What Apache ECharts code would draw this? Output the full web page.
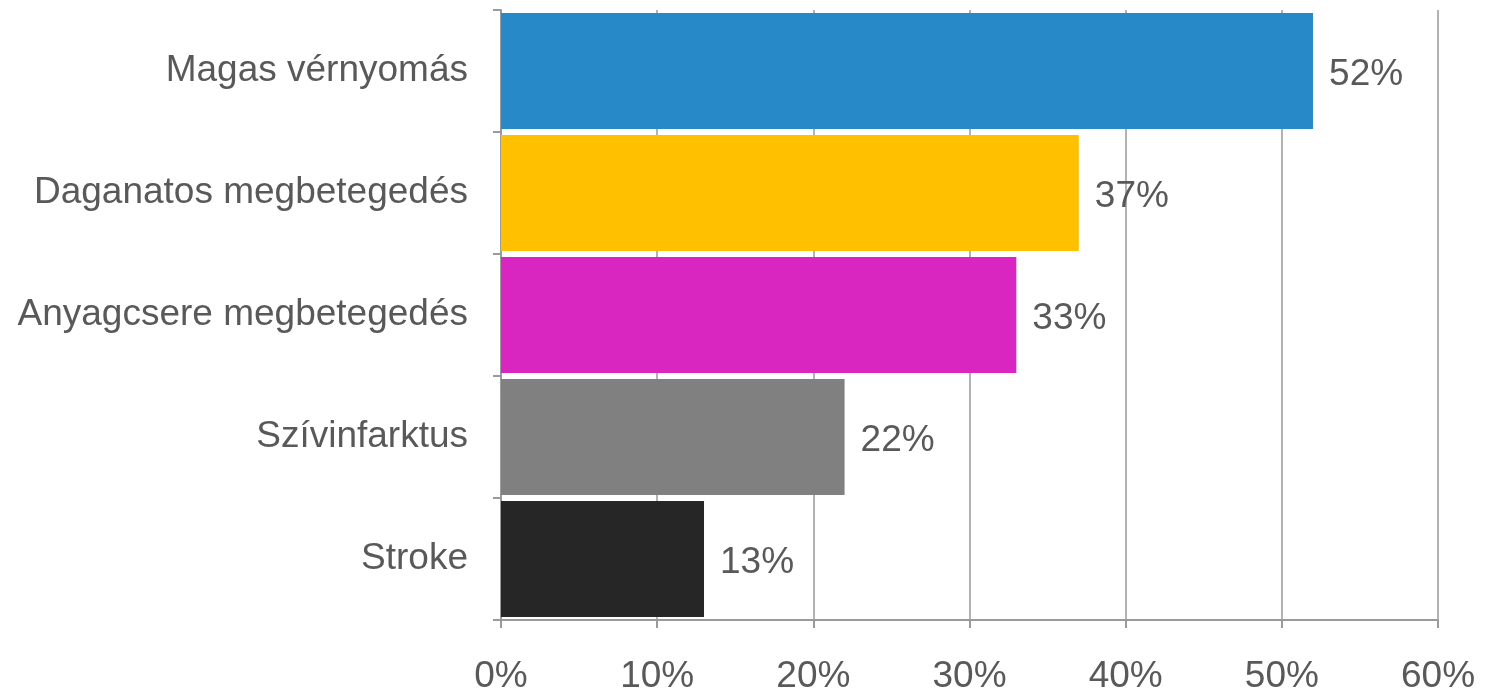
<!DOCTYPE html>
<html><head><meta charset="utf-8">
<script src="https://cdn.jsdelivr.net/npm/echarts@6/dist/echarts.min.js"></script>
<style>html,body{margin:0;padding:0;background:#fff}#c{width:1486px;height:693px}</style>
</head><body><div id="c"></div>
<script>
const categories = ["Magas vérnyomás","Daganatos megbetegedés","Anyagcsere megbetegedés","Szívinfarktus","Stroke"];
const values = [52, 37, 33, 22, 13];
const colors = ["#2789C8","#FFC000","#D926C0","#808080","#262626"];
const xTicks = [0,10,20,30,40,50,60];

const chart = echarts.init(document.getElementById('c'), null, {renderer:'canvas'});
const font = 'Liberation Sans, Arial, sans-serif';
chart.setOption({
  animation:false,
  grid:{left:501,right:48,top:10,bottom:73,containLabel:false,outerBoundsMode:'none'},
  xAxis:{type:'value',min:xTicks[0],max:xTicks[xTicks.length-1],interval:10,
    axisLine:{show:true,lineStyle:{color:'#9a9a9a',width:2}},
    axisTick:{show:true,length:8,lineStyle:{color:'#9a9a9a',width:2}},
    splitLine:{show:true,lineStyle:{color:'#9a9a9a',width:1.5}},
    axisLabel:{margin:38,fontSize:37,color:'#595959',fontFamily:font,formatter:v=>v+'%'}},
  yAxis:{type:'category',data:categories,inverse:true,
    axisLine:{show:true,lineStyle:{color:'#9a9a9a',width:2}},
    axisTick:{show:true,length:8,lineStyle:{color:'#9a9a9a',width:2}},
    axisLabel:{margin:33,fontSize:37,color:'#595959',fontFamily:font,padding:[7,0,0,0]}},
  series:[{type:'bar',data:values.map((v,i)=>({value:v,itemStyle:{color:colors[i]}})),
    barCategoryGap:'5%',
    label:{show:true,position:'right',distance:16,offset:[0,4],fontSize:37,color:'#595959',fontFamily:font,formatter:p=>p.value+'%'}}]
});
</script></body></html>
